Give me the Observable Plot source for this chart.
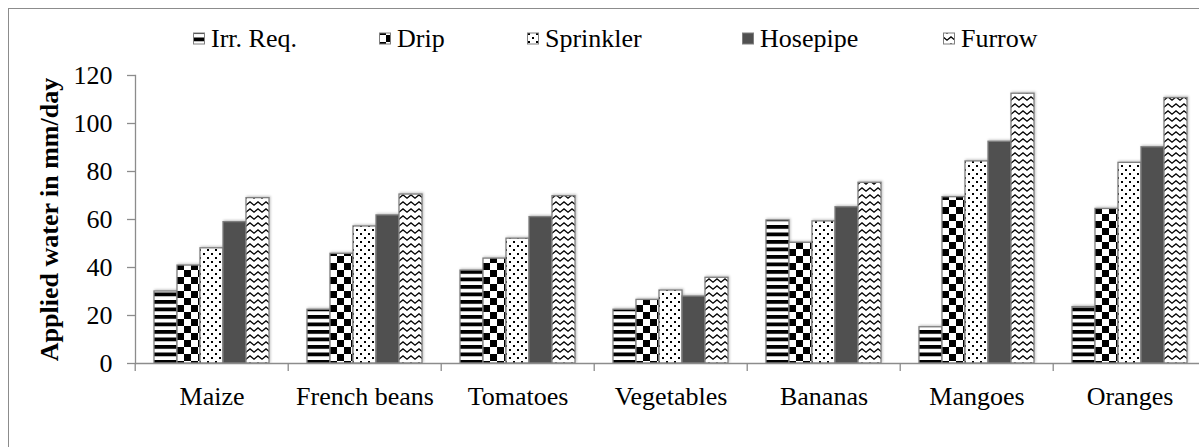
<!DOCTYPE html>
<html>
<head>
<meta charset="utf-8">
<script src="https://cdn.jsdelivr.net/npm/d3@7"></script>
<script src="https://cdn.jsdelivr.net/npm/@observablehq/plot@0.6"></script>
<style>
  html, body { margin: 0; padding: 0; background: #fff; }
  #wrap { position: relative; width: 1199px; height: 447px; overflow: hidden;
          font-family: "Liberation Serif", "Times New Roman", serif; }
  #border { position: absolute; left: 8px; top: 8px; width: 1400px; height: 700px;
            border-top: 1.3px solid #8c8c8c; border-left: 1.3px solid #8c8c8c; }
  #legend, #chart { position: relative; display: block; }
  #chart svg { overflow: visible; }
  #chart svg g[aria-label="bar"] rect { filter: drop-shadow(1px -1px 1px rgba(0,0,0,0.22)); }
</style>
</head>
<body>
<div id="wrap">
  <div id="border"></div>
  <svg width="0" height="0" style="position:absolute">
    <defs>
      <pattern id="pIrr" width="8" height="7.5" patternUnits="userSpaceOnUse">
        <rect width="8" height="7.5" fill="#fff"/>
        <rect width="8" height="3.8" fill="#000"/>
      </pattern>
      <pattern id="pDrip" width="14" height="14" patternUnits="userSpaceOnUse">
        <rect width="14" height="14" fill="#fff"/>
        <rect width="7" height="7" fill="#000"/>
        <rect x="7" y="7" width="7" height="7" fill="#000"/>
      </pattern>
      <pattern id="pSpr" width="8" height="8" patternUnits="userSpaceOnUse">
        <rect width="8" height="8" fill="#fff"/>
        <rect x="1" y="1" width="2" height="2" fill="#000"/>
        <rect x="5" y="5" width="2" height="2" fill="#000"/>
      </pattern>
      <pattern id="pHose" width="8" height="8" patternUnits="userSpaceOnUse">
        <rect width="8" height="8" fill="#505050"/>
      </pattern>
      <pattern id="pFur" width="8" height="7" patternUnits="userSpaceOnUse">
        <rect width="8" height="7" fill="#fff"/>
        <path d="M-0.5,1.5 L4,5.2 L8.5,1.5" fill="none" stroke="#000" stroke-width="1.4"/>
      </pattern>
    </defs>
  </svg>
  <div id="legend"></div>
  <div id="chart"></div>
</div>
<script>
// ---- data ----
const crops = ["Maize", "French beans", "Tomatoes", "Vegetables", "Bananas", "Mangoes", "Oranges"];
const series = ["Irr. Req.", "Drip", "Sprinkler", "Hosepipe", "Furrow"];
const irrReq    = [30.0, 22.4, 38.7, 22.4, 59.6, 15.1, 23.5];
const drip      = [40.8, 45.7, 43.7, 26.5, 50.3, 69.3, 64.4];
const sprinkler = [48.0, 57.1, 52.0, 30.4, 59.2, 84.2, 83.6];
const hosepipe  = [58.9, 61.7, 61.0, 27.9, 65.1, 92.4, 90.1];
const furrow    = [68.9, 70.4, 69.7, 35.7, 75.3, 112.4, 110.6];
const yTicks = [0, 20, 40, 60, 80, 100, 120];
const yTitle = "Applied water in mm/day";

const seriesValues = [irrReq, drip, sprinkler, hosepipe, furrow];
const patternIds = ["pIrr", "pDrip", "pSpr", "pHose", "pFur"];
const table = series.flatMap((s, i) => crops.map((c, j) => ({crop: c, series: s, value: seriesValues[i][j]})));

const font = '"Liberation Serif", "Times New Roman", serif';

// ---- legend ----
const legendX = [193, 379, 527, 742, 943];
const leg = d3.select("#legend").append("svg").attr("width", 1199).attr("height", 60)
  .style("display", "block");
series.forEach((s, i) => {
  const g = leg.append("g").attr("transform", `translate(${legendX[i]},0)`);
  g.append("rect").attr("x", 0.5).attr("y", 33).attr("width", 11).attr("height", 11)
    .attr("fill", `url(#${patternIds[i]})`).attr("stroke", "#7f7f7f").attr("stroke-width", 1);
  g.append("text").attr("x", 18).attr("y", 47).text(s)
    .attr("font-family", font).attr("font-size", 26).attr("fill", "#000");
});

// ---- chart ----
const fxRange = [133, 1208];
const bw = (fxRange[1] - fxRange[0]) / crops.length;

const chart = Plot.plot({
  width: 1199,
  height: 387,
  marginTop: 15,
  marginBottom: 84,
  marginLeft: 133,
  marginRight: 0,
  style: {fontFamily: font, fontSize: "26px", color: "#000", background: "transparent"},
  fx: {domain: crops, range: fxRange, paddingInner: 0, paddingOuter: 0},
  x: {domain: series, paddingInner: 0, paddingOuter: 0.7, axis: null},
  y: {domain: [0, 120], ticks: yTicks},
  color: {domain: series, range: patternIds.map(id => `url(#${id})`)},
  marks: [
    Plot.barY(table, {fx: "crop", x: "series", y: "value", fill: "series", stroke: "#7f7f7f", strokeWidth: 1.3}),
    Plot.ruleY([0], {stroke: "#8c8c8c", strokeWidth: 1.3}),
    Plot.frame({anchor: "left", facet: "super", stroke: "#8c8c8c", strokeWidth: 1.3}),
    Plot.axisY({ticks: yTicks, tickSize: 8, tickPadding: 15, stroke: "#8c8c8c", strokeWidth: 1.3,
                fill: "#000", fontSize: 26, fontFamily: font, label: null}),
    Plot.axisY({ticks: [], tickSize: 0, label: yTitle, labelAnchor: "center", labelOffset: 96,
                labelArrow: false, fontWeight: "bold", fontSize: 26, fontFamily: font, fill: "#000"}),
    Plot.axisFx({anchor: "bottom", tickSize: 0, tickPadding: 23, label: null, fontSize: 26,
                 fontFamily: font, fill: "#000"}),
    Plot.axisFx({anchor: "bottom", tickSize: 8, dx: -bw / 2, tickFormat: () => "", label: null,
                 stroke: "#8c8c8c", strokeWidth: 1.3})
  ]
});
document.getElementById("chart").appendChild(chart);
</script>
</body>
</html>
